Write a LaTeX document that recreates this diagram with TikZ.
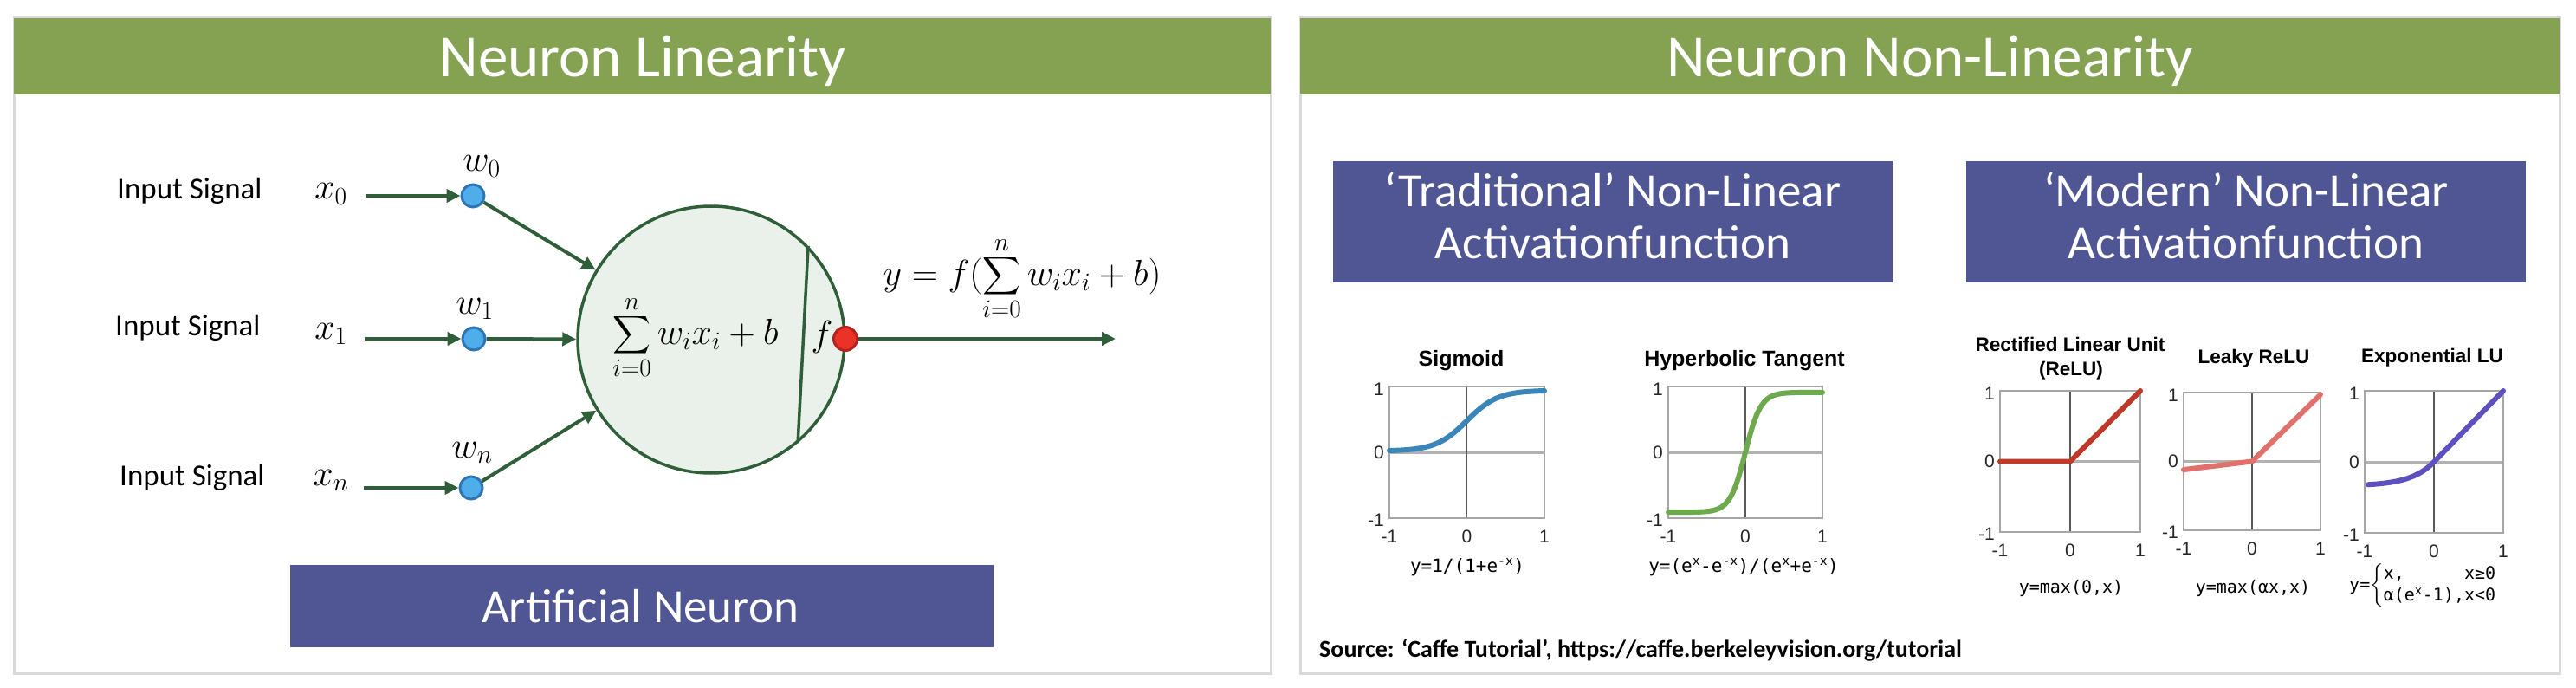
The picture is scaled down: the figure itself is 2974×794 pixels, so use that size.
\RequirePackage{fix-cm}
\documentclass[tikz,border=0pt]{standalone}
\usepackage{amsmath}
\usepackage{exscale}
\usepackage{graphicx}
\usepackage{fontspec}
\setmainfont{Carlito}
\newfontfamily\plotfont{Liberation Sans}
\newfontfamily\monof{DejaVu Sans Mono}
\usetikzlibrary{arrows.meta}
\definecolor{hgreen}{RGB}{132,162,82}
\definecolor{pbox}{RGB}{80,86,148}
\definecolor{ngreen}{RGB}{47,95,56}
\definecolor{cfill}{RGB}{233,241,234}
\definecolor{dotblue}{RGB}{79,174,234}
\definecolor{dotblueb}{RGB}{46,117,182}
\definecolor{dotred}{RGB}{234,51,38}
\definecolor{dotredb}{RGB}{178,34,30}
\definecolor{framec}{RGB}{217,217,217}
\definecolor{csig}{RGB}{58,134,185}
\definecolor{ctanh}{RGB}{109,170,78}
\definecolor{crelu}{RGB}{190,58,40}
\definecolor{cleaky}{RGB}{224,112,106}
\definecolor{celu}{RGB}{94,80,190}
\newcommand{\bigsum}{\mathop{\vcenter{\hbox{\scalebox{1.22}{$\displaystyle\sum$}}}}\limits}
\tikzset{
  panelframe/.style={draw=framec, line width=3pt},
  headtitle/.style={anchor=base, text=white, inner sep=0pt, font=\fontsize{69}{80}\selectfont},
  inlbl/.style={anchor=base west, inner sep=0pt, font=\fontsize{35}{40}\selectfont},
  mlbl/.style={anchor=base, inner sep=0pt, font=\fontsize{42}{50}\selectfont},
  arr/.style={draw=ngreen, line width=4pt, -{Triangle[length=16pt,width=15pt]}},
  wdot/.style={circle, fill=dotblue, draw=dotblueb, line width=3pt, minimum size=26pt, inner sep=0pt},
  rdot/.style={circle, fill=dotred, draw=dotredb, line width=3pt, minimum size=27pt, inner sep=0pt},
  neuronc/.style={circle, fill=cfill, draw=ngreen, line width=3.5pt, minimum size=308pt, inner sep=0pt},
  pboxs/.style={fill=pbox, inner sep=0pt},
  boxtext/.style={text=white, align=center, inner sep=0pt, font=\fontsize{55}{60}\selectfont},
  ptitle/.style={anchor=base, inner sep=0pt, align=center, font=\plotfont\bfseries\fontsize{25}{28}\selectfont},
  mtitle/.style={anchor=base, inner sep=0pt, align=center, font=\plotfont\bfseries\fontsize{22.5}{28}\selectfont},
  tick/.style={inner sep=0pt, font=\plotfont\fontsize{21}{21}\selectfont, text=black!85},
  gridbox/.style={draw=black!35, line width=1.5pt},
  zline/.style={draw=black!30, line width=3pt},
  cline/.style={draw=black!65, line width=1.2pt},
  curve/.style={line width=6pt, line cap=round, line join=round},
  ftext/.style={inner sep=0pt, font=\monof\fontsize{21}{25}\selectfont},
  mftext/.style={inner sep=0pt, font=\monof\fontsize{20}{25}\selectfont},
}
\newcommand{\myaxes}[1]{%
  \draw[zline] (-1,0) -- (1,0);
  \draw[cline] (0,-1) -- (0,1);
  \draw[gridbox] (-1,-1) rectangle (1,1);
  \node[tick, anchor=east, xshift=-6pt, yshift=-3pt] (#1ya) at (-1,1) {1};
  \node[tick, anchor=east, xshift=-6pt] (#1yb) at (-1,0) {0};
  \node[tick, anchor=east, xshift=-6pt, yshift=-2pt] (#1yc) at (-1,-1) {-1};
  \node[tick, anchor=north, yshift=-14pt] (#1xa) at (-1,-1) {-1};
  \node[tick, anchor=north, yshift=-14pt] (#1xb) at (0,-1) {0};
  \node[tick, anchor=north, yshift=-14pt] (#1xc) at (1,-1) {1};
}
\begin{document}
\begin{tikzpicture}[x=1pt,y=-1pt]
\useasboundingbox (0,0) rectangle (2974,794);
\fill[white] (0,0) rectangle (2974,794);

% ---------- left panel ----------
\draw[panelframe] (16,21) rectangle (1467,777);
\fill[hgreen] (16,21) rectangle (1467,109);
\node[headtitle] (t1) at (742,89) {Neuron Linearity};

\node[inlbl] (in0) at (135,230) {Input Signal};
\node[inlbl] (in1) at (133,387) {Input Signal};
\node[inlbl] (in2) at (138,560) {Input Signal};
\node[mlbl] (x0) at (382,230) {$x_0$};
\node[mlbl] (x1) at (382,391) {$x_1$};
\node[mlbl] (xn) at (382,560) {$x_n$};

\node[neuronc] (neuron) at (821,392) {};
\draw[ngreen, line width=3.5pt] (neuron.44) -- (neuron.-50);

\node[wdot] (dot0) at (546,226) {};
\node[wdot] (dot1) at (547,391) {};
\node[wdot] (dotn) at (544,563) {};
\node[mlbl] (w0) at (556,198) {$w_0$};
\node[mlbl] (w1) at (548,362) {$w_1$};
\node[mlbl] (wn) at (545,528) {$w_n$};

\coordinate (s0) at (423,226);
\coordinate (s1) at (421,391);
\coordinate (sn) at (420,563);
\draw[arr] (s0) -- (dot0);
\draw[arr] (s1) -- (dot1);
\draw[arr] (sn) -- (dotn);
\draw[arr] (dot0) -- (neuron);
\draw[arr] (dot1) -- (neuron);
\draw[arr] (dotn) -- (neuron);

\node[inner sep=0pt, font=\fontsize{42}{50}\selectfont] (sum) at (803,390) {$\displaystyle\bigsum_{i=0}^{n} w_ix_i+b$};
\node[mlbl] (fl) at (949,399) {$f$};
\node[rdot] (rd) at (976,391) {};
\coordinate (out) at (1288,391);
\draw[arr] (rd) -- (out);
\node[inner sep=0pt, font=\fontsize{42}{50}\selectfont] (eq) at (1180,322) {$\displaystyle y=f(\bigsum_{i=0}^{n} w_ix_i+b)$};

\node[pboxs, minimum width=812pt, minimum height=95pt] (anbox) at (741,699.5) {};
\node[anchor=base, text=white, inner sep=0pt, font=\fontsize{55}{60}\selectfont] (antext) at (739,718) {Artificial Neuron};

% ---------- right panel ----------
\draw[panelframe] (1501,21) rectangle (2955,777);
\fill[hgreen] (1501,21) rectangle (2955,109);
\node[headtitle] (t2) at (2228,89) {Neuron Non-Linearity};

\node[pboxs, minimum width=646pt, minimum height=140pt] (trad) at (1862,256) {};
\node[boxtext, anchor=base] (tradt) at (1862,299) {‘Traditional’ Non-Linear\\Activationfunction};
\node[pboxs, minimum width=646pt, minimum height=140pt] (modern) at (2593,256) {};
\node[boxtext, anchor=base] (modt) at (2593,299) {‘Modern’ Non-Linear\\Activationfunction};

% sigmoid
\node[ptitle] (sigt) at (1687,422) {Sigmoid};
\begin{scope}[shift={(1693.5,522)}, x=89.5pt, y=76pt]
  \myaxes{sig}
  \draw[curve, csig] plot[domain=-1:1, samples=80, smooth] (\x, {0.02+0.92/(1+exp(-5*\x))});
\end{scope}
\node[ftext, anchor=base] (sigf) at (1694,660) {y=1/(1+e\textsuperscript{-x})};

% tanh
\node[ptitle] (tanht) at (2014,422) {Hyperbolic Tangent};
\begin{scope}[shift={(2015,522)}, x=89pt, y=76pt]
  \myaxes{tanh}
  \draw[curve, ctanh] plot[domain=-1:1, samples=80, smooth] (\x, {0.91*tanh(5*\x)});
\end{scope}
\node[ftext, anchor=base] (tanhf) at (2013,660) {y=(e\textsuperscript{x}-e\textsuperscript{-x})/(e\textsuperscript{x}+e\textsuperscript{-x})};

% ReLU
\node[mtitle] (relut) at (2390,405) {Rectified Linear Unit};
\node[mtitle] (relut2) at (2391,433) {(ReLU)};
\begin{scope}[shift={(2390,532.5)}, x=81pt, y=81.5pt]
  \myaxes{relu}
  \draw[curve, crelu] (-1,0) -- (0,0) -- (1,1);
\end{scope}
\node[mftext, anchor=base] (reluf) at (2391,684) {y=max(0,x)};

% Leaky ReLU
\node[mtitle] (leakyt) at (2602,419) {Leaky ReLU};
\begin{scope}[shift={(2600,532.5)}, x=79pt, y=79.5pt]
  \myaxes{leaky}
  \draw[curve, cleaky] (-1,-0.12) -- (0,0) -- (1,0.97);
\end{scope}
\node[mftext, anchor=base] (leakyf) at (2601,684) {y=max(αx,x)};

% ELU
\node[mtitle] (elut) at (2808,418) {Exponential LU};
\begin{scope}[shift={(2810,533)}, x=80pt, y=82pt]
  \myaxes{elu}
  \draw[curve, celu] plot[domain=-0.95:0, samples=40, smooth] (\x, {0.34*(exp(3*\x)-1)}) -- (1,1);
\end{scope}
\node[mftext, anchor=west] (eluf) at (2712,676) {y=$\left\{\begin{tabular}{@{}l@{}l@{}}x,&x≥0\\α(e\textsuperscript{x}-1),&x<0\end{tabular}\right.$};

\node[anchor=base west, inner sep=0pt, font=\bfseries\fontsize{28}{32}\selectfont] (src) at (1523,758) {Source: ‘Caffe Tutorial’, https://caffe.berkeleyvision.org/tutorial};
\end{tikzpicture}
\end{document}
